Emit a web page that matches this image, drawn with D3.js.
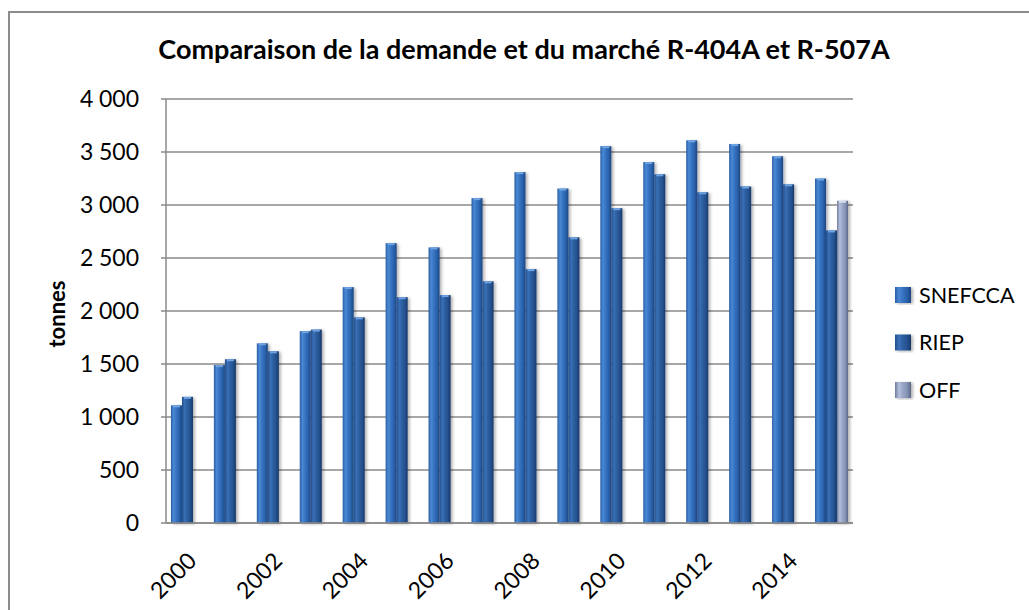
<!DOCTYPE html>
<html lang="fr">
  <head>
    <meta charset="utf-8">
    <title>Comparaison de la demande et du marché R-404A et R-507A</title>
    <script src="https://d3js.org/d3.v7.min.js"></script>
    <style>
      html, body {
        padding: 0px;
        margin: 0px;
        background: #fff;
      }
      svg {
        font-family: Lato, "Open Sans", sans-serif;
        display: block;
      }
      .grid line {
        stroke: #8a8a8a;
        stroke-width: 1.5;
      }
      .tick-label {
        font-size: 23px;
        fill: #000;
      }
      .legend-label {
        font-size: 21.5px;
        fill: #000;
      }
    </style>
  </head>
  <body>
    <div id="chart"></div>
    <script>
      // data
      var years = ["2000", "2001", "2002", "2003", "2004", "2005", "2006", "2007",
                   "2008", "2009", "2010", "2011", "2012", "2013", "2014", "2015"];
      var seriesNames = ["SNEFCCA", "RIEP", "OFF"];
      var snefcca = [1110, 1490, 1695, 1810, 2225, 2640, 2600, 3065, 3310, 3155, 3555, 3405, 3610, 3575, 3460, 3250];
      var riep = [1190, 1545, 1620, 1825, 1940, 2130, 2150, 2280, 2395, 2695, 2970, 3290, 3120, 3175, 3195, 2760];
      var off = [null, null, null, null, null, null, null, null, null, null, null, null, null, null, null, 3040];
      var yTicks = [0, 500, 1000, 1500, 2000, 2500, 3000, 3500, 4000];
      var xLabels = ["2000", "2002", "2004", "2006", "2008", "2010", "2012", "2014"];

      var values = [snefcca, riep, off];
      var width = 1029, height = 610;
      var plotLeft = 166, plotRight = 853, plotTop = 99, plotBottom = 523;

      var svg = d3.select("#chart").append("svg")
        .attr("width", width)
        .attr("height", height);

      var defs = svg.append("defs");
      var grads = [
        ["g0", ["#2a5fa6", "#4a88d4", "#3572c0", "#2a62ab", "#1d4580"]],
        ["g1", ["#234f8c", "#3a70b6", "#2c5e9f", "#25528f", "#173869"]],
        ["g2", ["#6f7c9c", "#b4c0dc", "#97a5c6", "#8593b5", "#5d6888"]]
      ];
      grads.forEach(function(g) {
        var lg = defs.append("linearGradient").attr("id", g[0])
          .attr("x1", "0").attr("x2", "1").attr("y1", "0").attr("y2", "0");
        var offs = [0, 0.25, 0.5, 0.75, 1];
        g[1].forEach(function(c, i) {
          lg.append("stop").attr("offset", offs[i]).attr("stop-color", c);
        });
      });
      var sh = defs.append("filter").attr("id", "shadow")
        .attr("x", "-30%").attr("y", "-5%").attr("width", "170%").attr("height", "115%");
      sh.append("feDropShadow").attr("dx", 2).attr("dy", 1).attr("stdDeviation", 1.5)
        .attr("flood-color", "#000").attr("flood-opacity", 0.3);

      // outer frame
      svg.append("rect")
        .attr("x", 9).attr("y", 12)
        .attr("width", 1040).attr("height", 640)
        .attr("fill", "none")
        .attr("stroke", "#8c8c8c")
        .attr("stroke-width", 2);

      var x = d3.scaleBand()
        .domain(years)
        .range([plotLeft, plotRight])
        .paddingInner(0.23)
        .paddingOuter(0.115);

      var xs = d3.scaleBand()
        .domain([0, 1, 2])
        .range([0, x.bandwidth()]);

      var y = d3.scaleLinear()
        .domain([0, 4000])
        .range([plotBottom, plotTop]);

      var fmt = function(v) { return d3.format(",")(v).replace(",", "\u202f"); };

      // gridlines
      svg.append("g")
        .attr("class", "grid")
        .selectAll("line")
        .data(yTicks)
        .enter().append("line")
          .attr("x1", plotLeft - 5)
          .attr("x2", plotRight)
          .attr("y1", function(d) { return y(d); })
          .attr("y2", function(d) { return y(d); });

      // y axis line
      svg.append("line")
        .attr("x1", plotLeft).attr("x2", plotLeft)
        .attr("y1", plotTop).attr("y2", plotBottom)
        .attr("stroke", "#8a8a8a").attr("stroke-width", 1.5);

      svg.append("g")
        .selectAll("text")
        .data(yTicks)
        .enter().append("text")
          .attr("class", "tick-label")
          .attr("x", 139)
          .attr("y", function(d) { return y(d); })
          .attr("dy", "0.36em")
          .attr("text-anchor", "end")
          .text(fmt);

      // bars
      var bars = svg.append("g");
      values.forEach(function(vals, s) {
        var data = years.map(function(yr, i) { return {year: yr, v: vals[i]}; })
          .filter(function(d) { return d.v != null; });
        var g = bars.append("g").attr("filter", "url(#shadow)");
        g.selectAll("rect")
          .data(data)
          .enter().append("rect")
            .attr("x", function(d) { return x(d.year) + xs(s); })
            .attr("y", function(d) { return y(d.v); })
            .attr("width", xs.bandwidth())
            .attr("height", function(d) { return y(0) - y(d.v); })
            .attr("fill", "url(#g" + s + ")");
        // light cap on top of each bar
        g.selectAll("line")
          .data(data)
          .enter().append("line")
            .attr("x1", function(d) { return x(d.year) + xs(s) + 2; })
            .attr("x2", function(d) { return x(d.year) + xs(s) + xs.bandwidth() - 2; })
            .attr("y1", function(d) { return y(d.v) + 1; })
            .attr("y2", function(d) { return y(d.v) + 1; })
            .attr("stroke", s == 2 ? "#d6def0" : "#6fa3e2")
            .attr("stroke-width", 2);
      });

      // x axis line
      svg.append("line")
        .attr("x1", plotLeft).attr("x2", plotRight)
        .attr("y1", plotBottom).attr("y2", plotBottom)
        .attr("stroke", "#8a8a8a").attr("stroke-width", 1.5);

      svg.append("g")
        .selectAll("text")
        .data(xLabels)
        .enter().append("text")
          .attr("class", "tick-label")
          .attr("text-anchor", "end")
          .attr("transform", function(d) {
            return "translate(" + (x(d) + x.bandwidth() / 2 - 1) + "," + 551 + ") rotate(-45)";
          })
          .attr("dy", "0.7em")
          .text(function(d) { return d; });

      // title
      svg.append("text")
        .attr("x", 524)
        .attr("y", 59)
        .attr("text-anchor", "middle")
        .attr("font-size", 27)
        .attr("font-weight", "bold")
        .text("Comparaison de la demande et du marché R-404A et R-507A");

      // y axis title
      svg.append("text")
        .attr("transform", "translate(65,314) rotate(-90)")
        .attr("text-anchor", "middle")
        .attr("font-size", 22)
        .attr("font-weight", "bold")
        .text("tonnes");

      // legend
      var legend = svg.append("g")
        .selectAll("g")
        .data(seriesNames)
        .enter().append("g")
          .attr("transform", function(d, i) { return "translate(895," + (287 + i * 47.5) + ")"; });
      legend.append("rect")
        .attr("width", 16).attr("height", 16)
        .attr("fill", function(d, i) { return "url(#g" + i + ")"; })
        .attr("filter", "url(#shadow)");
      legend.append("text")
        .attr("class", "legend-label")
        .attr("x", 24)
        .attr("y", 8)
        .attr("dy", "0.36em")
        .text(function(d) { return d; });
    </script>
  </body>
</html>
